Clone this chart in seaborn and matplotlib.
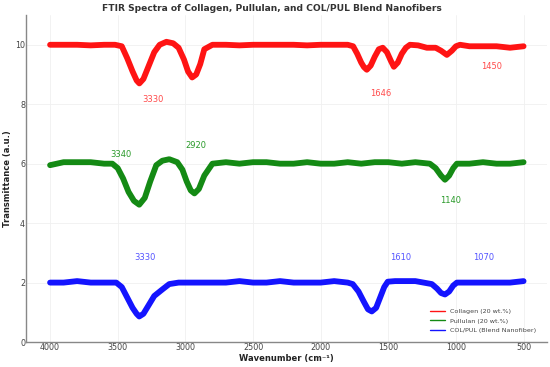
import matplotlib
matplotlib.use('Agg')
import matplotlib.pyplot as plt
import seaborn as sns
import pandas as pd

# Spectra (wavenumber cm-1 -> transmittance, a.u.)
collagen_wn = [4000, 3900, 3800, 3700, 3600, 3520, 3470, 3430, 3390, 3360, 3340, 3310, 3270, 3230, 3190,
               3140, 3090, 3050, 3010, 2980, 2950, 2920, 2890, 2860, 2800, 2700, 2600, 2500, 2400, 2300,
               2200, 2100, 2000, 1900, 1800, 1760, 1730, 1700, 1680, 1659, 1630, 1600, 1570, 1541, 1510,
               1480, 1459, 1430, 1400, 1370, 1340, 1280, 1215, 1150, 1110, 1067, 1030, 1000, 970, 900,
               800, 700, 600, 500]
collagen_t = [10.0, 10.0, 10.0, 9.98, 10.0, 10.0, 9.95, 9.55, 9.1, 8.8, 8.7, 8.85, 9.3, 9.75, 10.0,
              10.1, 10.05, 9.9, 9.5, 9.1, 8.9, 9.0, 9.35, 9.85, 10.0, 10.0, 9.98, 10.0, 10.0, 10.0,
              10.0, 9.98, 10.0, 10.0, 10.0, 9.95, 9.7, 9.4, 9.25, 9.16, 9.3, 9.6, 9.85, 9.9, 9.75,
              9.45, 9.26, 9.4, 9.7, 9.9, 10.0, 9.98, 9.9, 9.9, 9.8, 9.66, 9.8, 9.95, 10.0, 9.95,
              9.95, 9.95, 9.9, 9.95]

pullulan_wn = [4000, 3900, 3800, 3700, 3600, 3540, 3500, 3460, 3420, 3380, 3341, 3300, 3260, 3215, 3170,
               3119, 3060, 3022, 2990, 2960, 2933, 2900, 2860, 2800, 2700, 2600, 2500, 2400, 2300, 2200,
               2100, 2000, 1900, 1800, 1700, 1600, 1500, 1400, 1300, 1193, 1150, 1110, 1081, 1050, 1020,
               993, 900, 800, 700, 600, 500]
pullulan_t = [5.95, 6.05, 6.05, 6.05, 6.0, 6.0, 5.85, 5.5, 5.05, 4.75, 4.62, 4.85, 5.4, 5.95, 6.1,
              6.15, 6.05, 5.8, 5.4, 5.1, 5.0, 5.15, 5.6, 6.0, 6.05, 6.0, 6.05, 6.05, 6.0, 6.0,
              6.05, 6.0, 6.0, 6.05, 6.0, 6.05, 6.05, 6.0, 6.05, 6.0, 5.85, 5.6, 5.46, 5.6, 5.85,
              6.0, 6.0, 6.05, 6.0, 6.0, 6.05]

blend_wn = [4000, 3900, 3800, 3700, 3600, 3511, 3470, 3430, 3390, 3360, 3341, 3310, 3270, 3230, 3170,
            3119, 3050, 3000, 2900, 2800, 2700, 2600, 2500, 2400, 2300, 2200, 2100, 2000, 1900, 1800,
            1763, 1720, 1680, 1650, 1622, 1590, 1560, 1530, 1504, 1450, 1400, 1300, 1178, 1140, 1110,
            1081, 1050, 1020, 993, 900, 800, 700, 600, 500]
blend_t = [2.0, 2.0, 2.05, 2.0, 2.0, 2.0, 1.85, 1.5, 1.15, 0.95, 0.86, 0.95, 1.25, 1.55, 1.77,
           1.95, 2.0, 2.0, 2.0, 2.0, 2.0, 2.05, 2.0, 2.0, 2.05, 2.0, 2.0, 2.0, 2.05, 2.0,
           1.95, 1.7, 1.35, 1.1, 1.03, 1.15, 1.5, 1.85, 2.03, 2.05, 2.05, 2.05, 1.95, 1.8, 1.65,
           1.6, 1.7, 1.9, 2.0, 2.0, 2.0, 2.0, 2.0, 2.05]

series_names = ['Collagen (20 wt.%)', 'Pullulan (20 wt.%)', 'COL/PUL (Blend Nanofiber)']
series_colors = ['red', 'green', 'blue']

# Peak labels: (text, x, y, series index)
peak_labels = [
    ('3330', 3237, 8.15, 0), ('1646', 1556, 8.35, 0), ('1450', 733, 9.26, 0),
    ('3340', 3480, 6.3, 1), ('2920', 2920, 6.6, 1), ('1140', 1037, 4.76, 1),
    ('3330', 3300, 2.84, 2), ('1610', 1407, 2.84, 2), ('1070', 793, 2.84, 2),
]
label_colors = ['#ff4a4a', '#2a9a2a', '#5555ff']

df = pd.concat([
    pd.DataFrame({'Wavenumber': collagen_wn, 'Transmittance': collagen_t, 'Sample': series_names[0]}),
    pd.DataFrame({'Wavenumber': pullulan_wn, 'Transmittance': pullulan_t, 'Sample': series_names[1]}),
    pd.DataFrame({'Wavenumber': blend_wn, 'Transmittance': blend_t, 'Sample': series_names[2]}),
], ignore_index=True)

sns.set_theme(style='whitegrid')
plt.rcParams['font.family'] = ['DejaVu Sans']

fig = plt.figure(figsize=(5.5, 3.67), dpi=100)
ax = fig.add_axes([0.048, 0.068, 0.947, 0.891])

sns.lineplot(data=df, x='Wavenumber', y='Transmittance', hue='Sample', hue_order=series_names,
             palette=series_colors, lw=4.2, alpha=0.92, ax=ax, estimator=None, sort=True)

for text, x, y, idx in peak_labels:
    ax.text(x, y, text, color=label_colors[idx], fontsize=6, ha='center', va='center')

ax.set_xlim(4175, 325)
ax.set_ylim(0, 11)
ax.set_xticks([4000, 3500, 3000, 2500, 2000, 1500, 1000, 500])
ax.set_yticks([0, 2, 4, 6, 8, 10])
ax.tick_params(labelsize=5.8, colors='#444444', pad=1, length=0)
ax.grid(True, color='#f0f0f0', lw=0.6)
sns.despine(ax=ax)
for side in ['left', 'bottom']:
    ax.spines[side].set_color('#888888')
    ax.spines[side].set_linewidth(1.0)

ax.set_title('FTIR Spectra of Collagen, Pullulan, and COL/PUL Blend Nanofibers',
             fontsize=6.6, fontweight='bold', color='#333333', pad=3, x=0.472)
ax.set_xlabel('Wavenumber (cm\u207b\u00b9)', fontsize=6, fontweight='bold', color='#222222', labelpad=1)
ax.set_ylabel('Transmittance (a.u.)', fontsize=6, fontweight='bold', color='#222222', labelpad=2)

leg = ax.legend(loc='lower right', bbox_to_anchor=(0.99, 0.01), fontsize=4.6, frameon=False,
                handlelength=2.4, labelspacing=0.6)
for line in leg.get_lines():
    line.set_linewidth(1.0)
for t in leg.get_texts():
    t.set_color('#444444')

fig.savefig('out.png', dpi=100)
